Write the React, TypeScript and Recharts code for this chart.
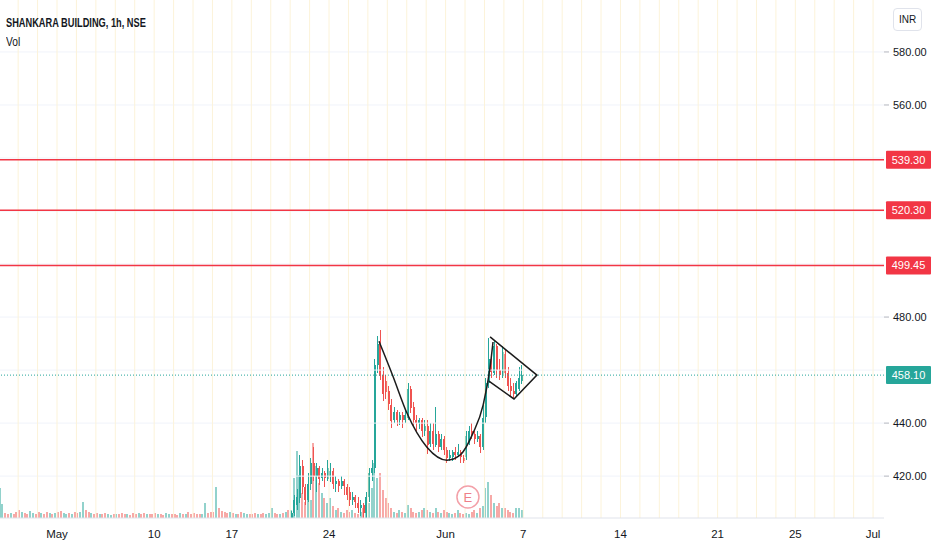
import React from "react";
import {
  ComposedChart,
  Bar,
  Line,
  XAxis,
  YAxis,
  ReferenceLine,
  ReferenceDot,
} from "recharts";

// ---------- data ----------
const BARS_PER_DAY = 7;
const FIRST_DAY = -3; // Apr 28 (trading-day index, May 3 = 0)
const CANDLE_START_DAY = 12; // May 20, first candles inside the visible price range

const dayTicks = [0, 5, 9, 14, 20, 24, 29, 34, 38, 42];
const tickLabels = ["May", "10", "17", "24", "Jun", "7", "14", "21", "25", "Jul"];

const priceTicks = [420, 440, 480, 560, 580];
const gridPrices = [420, 440, 460, 480, 500, 520, 540, 560, 580];
const levelPrices = [539.3, 520.3, 499.45];
const lastPrice = 458.1;

// hourly candles from May 20 to Jun 4 (7 per day)
const candleOpen = [
  404, 406, 409, 412, 424, 416, 411,
  417, 425, 420, 423, 419, 421, 419,
  420, 422, 417, 418, 416, 418, 416,
  414, 411, 412, 410, 408, 409, 406,
  412, 421, 423, 462, 470, 458, 456,
  452, 447, 441, 444, 441, 443, 441,
  442, 453, 446, 441, 440, 441, 437,
  439, 432, 437, 432, 436, 431, 434,
  430, 427, 427, 429, 428, 429, 427,
  427, 433, 437, 436, 434, 435, 431,
  442, 455, 464, 459, 469, 460, 458,
  466, 459, 454, 452, 451, 453, 456,
];
const candleHigh = [
  407, 413, 415, 428, 426, 417, 421,
  427, 431, 425, 424, 423, 422, 426,
  425, 423, 420, 419, 420, 419, 417,
  416, 414, 413, 412, 411, 410, 414,
  423, 426, 464, 473, 475, 461, 458,
  454, 449, 446, 445, 444, 444, 445,
  455, 454, 448, 443, 442, 442, 441,
  441, 440, 440, 446, 437, 436, 435,
  431, 430, 430, 431, 432, 430, 428,
  437, 439, 440, 437, 437, 436, 447,
  457, 472, 466, 471, 470, 464, 469,
  468, 461, 457, 455, 456, 461, 462,
];
const candleLow = [
  402, 405, 407, 410, 413, 409, 410,
  415, 418, 414, 417, 418, 416, 418,
  418, 415, 414, 414, 415, 413, 411,
  409, 409, 408, 406, 405, 403, 404,
  410, 418, 421, 459, 456, 448, 449,
  445, 438, 440, 439, 439, 438, 440,
  441, 444, 439, 437, 438, 435, 435,
  428, 431, 430, 431, 429, 430, 428,
  425, 426, 426, 426, 427, 425, 425,
  426, 432, 434, 432, 433, 429, 430,
  440, 453, 457, 458, 457, 456, 457,
  457, 452, 450, 449, 450, 452, 455,
];
const candleClose = [
  406, 411, 412, 424, 416, 411, 417,
  425, 420, 423, 419, 421, 419, 423,
  422, 417, 418, 416, 418, 416, 413,
  411, 412, 410, 408, 409, 406, 412,
  421, 423, 462, 470, 458, 451, 452,
  447, 441, 444, 441, 443, 441, 443,
  453, 446, 441, 440, 441, 437, 439,
  432, 437, 432, 436, 431, 434, 430,
  427, 428, 429, 428, 429, 427, 426,
  435, 437, 436, 434, 435, 431, 442,
  455, 464, 459, 469, 460, 458, 467,
  459, 454, 452, 451, 455, 457, 458.1,
];

// hourly volume (thousand shares), Apr 28 .. Jun 4
const volumes = [
  75, 35, 12, 10, 12, 10, 15,
  20, 15, 12, 10, 18, 12, 10,
  15, 12, 10, 15, 12, 10, 12,
  15, 18, 12, 10, 12, 10, 15,
  12, 15, 40, 20, 15, 12, 10,
  12, 10, 10, 12, 10, 8, 10,
  10, 10, 12, 10, 10, 8, 12,
  10, 12, 10, 12, 10, 10, 10,
  12, 10, 10, 8, 12, 10, 10,
  10, 8, 12, 10, 10, 15, 10,
  12, 10, 10, 10, 38, 12, 15,
  15, 78, 25, 18, 15, 12, 15,
  12, 10, 10, 15, 12, 10, 10,
  10, 12, 10, 10, 12, 10, 12,
  25, 12, 10, 10, 12, 15, 20,
  20, 100, 168, 108, 62, 40, 68,
  45, 188, 130, 88, 62, 50, 38,
  50, 30, 20, 25, 15, 12, 20,
  15, 20, 12, 10, 15, 25, 35,
  38, 75, 138, 100, 112, 70, 50,
  38, 25, 15, 12, 20, 15, 12,
  32, 25, 15, 12, 15, 20, 25,
  20, 15, 12, 25, 15, 12, 20,
  15, 12, 10, 12, 20, 12, 10,
  12, 10, 15, 20, 12, 25, 30,
  75, 90, 58, 38, 30, 38, 25,
  25, 20, 15, 12, 25, 25, 20,
];

// bar direction (u = up, d = down) for bars whose candles are below the visible range
const earlyDirections =
  "uuddudd" + "dudduud" + "duddudu" + "dduudud" + "duuddud" +
  "dudduud" + "udddudd" + "duddudd" + "dudduud" + "ddududd" +
  "ddduudd" + "duddddu" + "dudduud" + "ddudduu" + "uddudud";

// drawings (trading-day index, price)
const cupPoints = [
  { t: 16.57, p: 470.9 },
  { t: 17.29, p: 457.7 },
  { t: 18.01, p: 443.8 },
  { t: 19.04, p: 430.9 },
  { t: 20.07, p: 426.0 },
  { t: 20.74, p: 427.9 },
  { t: 21.41, p: 436.2 },
  { t: 21.93, p: 446.8 },
  { t: 22.29, p: 461.1 },
  { t: 22.44, p: 470.6 },
];
const flagPoints = [
  { t: 22.29, p: 472.5 },
  { t: 24.7, p: 458.1 },
  { t: 23.52, p: 449.1 },
  { t: 22.23, p: 455.8 },
];
const earnings = [{ t: 21.15, p: 412.1, label: "E" }];

const sessionDays: number[] = [];
for (let d = -2; d <= 42; d++) sessionDays.push(d);

// ---------- styling / layout ----------
const UP = "#26a69a";
const DOWN = "#ef5350";
const VOL_UP = "rgba(38,166,154,0.5)";
const VOL_DOWN = "rgba(239,83,80,0.5)";
const LEVEL = "#f23645";
const X_DOMAIN: [number, number] = [-2.934, 42.563];
const PRICE_DOMAIN: [number, number] = [404.2, 599.6];
const VOL_DOMAIN: [number, number] = [0, 1295];
const FONT = "'Liberation Sans', Arial, sans-serif";

const rows = volumes.map((vol, i) => {
  const day = FIRST_DAY + Math.floor(i / BARS_PER_DAY);
  const hour = i % BARS_PER_DAY;
  const t = day + (hour + 0.5) / BARS_PER_DAY;
  const ci = i - (CANDLE_START_DAY - FIRST_DAY) * BARS_PER_DAY;
  const has = ci >= 0 && ci < candleOpen.length;
  const open = has ? candleOpen[ci] : null;
  const high = has ? candleHigh[ci] : null;
  const low = has ? candleLow[ci] : null;
  const close = has ? candleClose[ci] : null;
  const up = has ? (close as number) >= (open as number) : earlyDirections[i] === "u";
  return { t, open, high, low, close, vol, up };
});

const Candle = (props: any) => {
  const { x, y, width, height, payload } = props;
  if (!payload || payload.open == null || !isFinite(y) || !isFinite(height)) return null;
  const top = Math.min(y, y + height);
  const bot = Math.max(y, y + height);
  const span = payload.high - payload.low || 1;
  const py = (v: number) => top + ((payload.high - v) / span) * (bot - top);
  const color = payload.close >= payload.open ? UP : DOWN;
  const yo = py(payload.open);
  const yc = py(payload.close);
  const cx = x + width / 2;
  const bx = Math.round(cx - 1);
  const wx = Math.round(cx - 0.5);
  const bt = Math.round(Math.min(yo, yc));
  const bh = Math.max(1, Math.round(Math.abs(yo - yc)));
  return (
    <g shapeRendering="crispEdges">
      <rect x={wx} y={Math.round(top)} width={1} height={Math.max(1, Math.round(bot - top))} fill={color} />
      <rect x={bx} y={bt} width={2} height={bh} fill={color} />
    </g>
  );
};

const VolBar = (props: any) => {
  const { x, y, width, height, payload } = props;
  if (!isFinite(y) || !isFinite(height)) return null;
  const cx = x + width / 2;
  const top = Math.round(Math.min(y, y + height));
  const bot = Math.round(Math.max(y, y + height));
  return (
    <rect
      x={Math.round(cx - 1)}
      y={top}
      width={2}
      height={Math.max(1, bot - top)}
      fill={payload.up ? VOL_UP : VOL_DOWN}
      shapeRendering="crispEdges"
    />
  );
};

const PriceTag = (props: any) => {
  const { viewBox, color, text } = props;
  if (!viewBox) return null;
  const lx = viewBox.x + viewBox.width + 2;
  const cy = viewBox.y;
  return (
    <g>
      <rect x={lx} y={cy - 9} width={45} height={18} fill={color} rx={1} />
      <text
        x={lx + 22.5}
        y={cy}
        dy="0.36em"
        textAnchor="middle"
        fill="#ffffff"
        fontSize={11}
        fontFamily={FONT}
      >
        {text}
      </text>
    </g>
  );
};

export default function App() {
  return (
    <div
      style={{
        position: "absolute",
        left: 0,
        top: 0,
        width: 932,
        height: 550,
        background: "#ffffff",
        fontFamily: FONT,
        overflow: "hidden",
      }}
    >
      <ComposedChart
        width={932}
        height={550}
        data={rows}
        margin={{ top: 0, right: 0, bottom: 0, left: 0 }}
      >
        <XAxis
          dataKey="t"
          type="number"
          domain={X_DOMAIN}
          allowDataOverflow
          ticks={dayTicks}
          tickFormatter={(v: number) => tickLabels[dayTicks.indexOf(v)] ?? ""}
          height={32}
          axisLine={{ stroke: "#e0e3eb" }}
          tickLine={false}
          tickMargin={6}
          tick={{ fill: "#131722", fontSize: 11.5 }}
          interval={0}
        />
        <XAxis
          xAxisId="vx"
          dataKey="t"
          type="number"
          domain={X_DOMAIN}
          allowDataOverflow
          hide
        />
        <YAxis
          yAxisId="price"
          orientation="right"
          type="number"
          domain={PRICE_DOMAIN}
          allowDataOverflow
          ticks={priceTicks}
          tickFormatter={(v: number) => v.toFixed(2)}
          width={48}
          axisLine={false}
          tickLine={{ stroke: "#b2b5be" }}
          tickSize={5}
          tickMargin={4}
          tick={{ fill: "#131722", fontSize: 11, textAnchor: "start" }}
          interval={0}
        />
        <YAxis yAxisId="vol" type="number" domain={VOL_DOMAIN} allowDataOverflow hide />

        {gridPrices.map((p) => (
          <ReferenceLine key={"g" + p} yAxisId="price" y={p} stroke="#f0f3fa" strokeWidth={1} />
        ))}
        {sessionDays.map((d) => (
          <ReferenceLine key={"s" + d} yAxisId="price" x={d} stroke="#fcf3d9" strokeWidth={1} />
        ))}

        <Bar
          xAxisId="vx"
          yAxisId="vol"
          dataKey="vol"
          barSize={2}
          shape={<VolBar />}
          isAnimationActive={false}
        />
        <Bar
          yAxisId="price"
          dataKey={(d: any) => (d.open == null ? null : [d.low, d.high])}
          barSize={2}
          shape={<Candle />}
          isAnimationActive={false}
        />

        {levelPrices.map((p) => (
          <ReferenceLine
            key={"l" + p}
            yAxisId="price"
            y={p}
            stroke={LEVEL}
            strokeWidth={1.5}
            label={<PriceTag color={LEVEL} text={p.toFixed(2)} />}
          />
        ))}
        <ReferenceLine
          yAxisId="price"
          y={lastPrice}
          stroke={UP}
          strokeDasharray="1 2"
          strokeWidth={1}
          label={<PriceTag color={UP} text={lastPrice.toFixed(2)} />}
        />

        <Line
          yAxisId="price"
          data={cupPoints}
          dataKey="p"
          type="monotone"
          stroke="#1c1c1c"
          strokeWidth={1.5}
          dot={false}
          activeDot={false}
          isAnimationActive={false}
        />
        <Line
          yAxisId="price"
          data={flagPoints}
          dataKey="p"
          type="linear"
          stroke="#1c1c1c"
          strokeWidth={1.5}
          dot={false}
          activeDot={false}
          isAnimationActive={false}
        />
        {earnings.map((e) => (
          <ReferenceDot
            key={"e" + e.t}
            yAxisId="price"
            x={e.t}
            y={e.p}
            r={11}
            fill="#ffffff"
            stroke="#f3a0a8"
            strokeWidth={1.5}
            label={{ value: e.label, fill: "#ee7f8a", fontSize: 13, position: "center" }}
          />
        ))}
      </ComposedChart>

      <div
        style={{
          position: "absolute",
          left: 6,
          top: 15,
          fontSize: 12,
          fontWeight: 700,
          color: "#131722",
          lineHeight: "16px",
          whiteSpace: "nowrap",
          transform: "scaleX(0.77)",
          transformOrigin: "0 0",
        }}
      >
        SHANKARA BUILDING, 1h, NSE
      </div>
      <div
        style={{
          position: "absolute",
          left: 6,
          top: 34,
          fontSize: 12,
          color: "#131722",
          lineHeight: "16px",
          transform: "scaleX(0.85)",
          transformOrigin: "0 0",
        }}
      >
        Vol
      </div>
      <div
        style={{
          position: "absolute",
          left: 893,
          top: 8,
          width: 27,
          height: 21,
          border: "1px solid #e0e3eb",
          borderRadius: 4,
          fontSize: 10,
          color: "#131722",
          display: "flex",
          alignItems: "center",
          justifyContent: "center",
        }}
      >
        INR
      </div>
    </div>
  );
}
